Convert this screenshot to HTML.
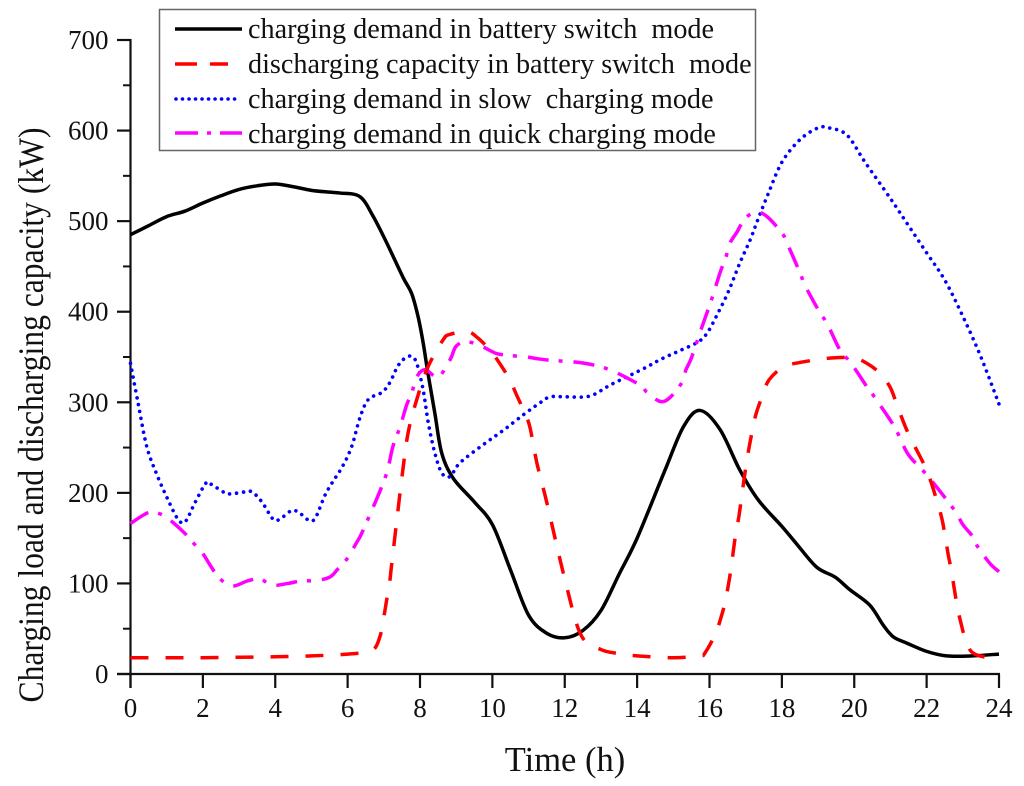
<!DOCTYPE html>
<html lang="en">
<head>
<meta charset="utf-8">
<title>Charging load and discharging capacity</title>
<style>
html,body{margin:0;padding:0;background:#fff;}
svg{display:block;}
text{font-family:"Liberation Serif",serif;fill:#111;white-space:pre;}
</style>
</head>
<body>
<svg id="chart" xmlns="http://www.w3.org/2000/svg" width="1024" height="786" viewBox="0 0 1024 786">
<rect x="0" y="0" width="1024" height="786" fill="#fff"/>
<g id="axes"></g>
<g id="series"></g>
<text transform="translate(43,415) rotate(-90)" text-anchor="middle" font-size="36" textLength="575" lengthAdjust="spacingAndGlyphs">Charging load and discharging capacity (kW)</text>
<text x="565" y="771" text-anchor="middle" font-size="34.500">Time (h)</text>
<g>
<rect x="159.500" y="9.500" width="596" height="141" fill="#fff" stroke="#666" stroke-width="1.500"/>
<line id="lg0" x1="175" x2="242" y1="29" y2="29"/>
<text x="248" y="38" font-size="28.200">charging demand in battery switch  mode</text>
<line id="lg1" x1="175" x2="228" y1="64" y2="64"/>
<text x="248" y="73" font-size="28.200">discharging capacity in battery switch  mode</text>
<line id="lg2" x1="176" x2="236" y1="99" y2="99"/>
<text x="248" y="108" font-size="28.200">charging demand in slow  charging mode</text>
<line id="lg3" x1="175" x2="242" y1="133" y2="133"/>
<text x="248" y="143" font-size="28.200">charging demand in quick charging mode</text>
</g>
</svg>
<script>
const xTickLabels = [0, 2, 4, 6, 8, 10, 12, 14, 16, 18, 20, 22, 24];
const yTickLabels = [0, 100, 200, 300, 400, 500, 600, 700];

const batteryHours = [0,0.5,1,1.5,2,2.5,3,3.5,4,4.5,5,5.5,5.8,6.34,6.71,7.08,7.53,7.77,7.95,8.09,8.22,8.41,8.6,8.92,9.5,10,10.5,11,11.5,12,12.5,13,13.5,14,14.77,15.28,15.74,16.29,16.84,17.35,18,18.4,18.96,19.47,19.88,20.43,20.8,21.08,21.46,22,22.55,23.27,24];
const batteryDemand = [485,495,505,511,520,528,535,539,541,538,534,532,531,527,505,476,438,420,394,365,332,288,244,216,190,165,115,65,45,40,48,70,110,150,225,273,291,270,225,192,163,144,118,107,93,76,54,41,34,25,20,20,22];

const dischargeHours = [0,1,2,3,4,5,6,6.67,6.89,7,7.08,7.17,7.22,7.5,7.67,7.91,8.22,8.64,8.83,9.3,9.57,9.93,10.2,10.48,10.67,10.9,11.04,11.23,11.5,12,12.45,13,13.6,14,15,15.73,15.87,16.15,16.3,16.43,16.52,16.6,16.73,16.82,17.02,17.2,17.3,17.48,17.65,18.04,18.5,19,19.4,19.97,20.35,20.71,21,21.2,21.5,22,22.3,22.43,22.52,22.6,22.7,22.76,22.85,22.95,23.1,23.33,24];
const dischargeCapacity = [18,18,18,18.5,19,20,22,26,41,63,82,104,122,217,266,303,339,369,375,378,372,358,343,325,308,288,272,233,190,105,43,27,22,20,18,20,23,43,60,79,98,118,157,176,233,272,289,309,325,339,344,347,349,349,343,332,316,295,265,225,189,170,150,131,111,95,74,56,35,22,16];

const slowHours = [0,0.21,0.45,0.73,1.04,1.31,1.51,1.78,2.09,2.25,2.61,2.8,3.16,3.36,3.63,3.94,4.13,4.43,4.63,4.96,5.13,5.37,5.57,5.87,6.12,6.34,6.57,6.95,7.17,7.36,7.53,7.75,7.91,8.09,8.23,8.41,8.6,8.83,9.1,9.74,10.3,10.85,11.3,11.6,12.06,12.7,13.3,14.17,14.68,15.18,15.7,15.96,16.24,16.52,16.84,17.12,17.35,17.62,18,18.5,19,19.3,19.8,20.3,21,21.5,22,22.5,23,23.5,24];
const slowDemand = [343,299,251,220,192,171,168,189,211,209,200,199,201,201,190,171,171,180,179,169,174,197,211,230,252,283,303,311,322,338,347,351,343,313,277,244,222,218,233,253,269,286,299,306,306,307,320,337,348,357,367,378,399,422,454,479,503,530,565,590,603,603,595,565,525,495,465,435,395,350,298];

const quickHours = [0,0.48,0.8,1.09,1.51,1.73,1.98,2.25,2.45,2.8,3.25,3.58,3.91,4.35,4.74,5.1,5.51,5.73,5.98,6.26,6.43,7.03,7.25,7.45,7.63,7.77,7.91,8.14,8.5,8.83,9,9.3,9.74,10.1,10.4,10.95,11.26,11.68,12.14,12.7,13.3,14.08,14.27,14.63,14.9,15.24,15.35,15.5,15.79,16.07,16.29,16.45,16.57,16.76,16.98,17.3,17.59,18,18.14,18.5,18.64,19.05,19.25,19.6,19.83,20.07,20.35,20.52,21,21.2,21.5,22,22.73,23,23.25,23.42,23.75,24];
const quickDemand = [166,178,177,170,155,145,134,117,106,97,103,105,98,100,103,103,107,116,127,146,159,216,251,273,297,310,328,336,328,347,362,367,361,354,352,350,348,346,345,342,335,319,311,301,305,322,336,349,383,415,443,460,476,488,503,510,505,487,476,443,429,399,387,358,347,334,317,308,280,266,242,220,183,165,153,140,122,113];

const SVGNS = 'http://www.w3.org/2000/svg';
const xScale = h => 130.5 + (h / 24) * 868.5;
const yScale = v => 674 - (v / 700) * 634;

const axesG = document.getElementById('axes');
const seriesG = document.getElementById('series');

function addLine(x1, y1, x2, y2, w) {
  const l = document.createElementNS(SVGNS, 'line');
  l.setAttribute('x1', x1);
  l.setAttribute('y1', y1);
  l.setAttribute('x2', x2);
  l.setAttribute('y2', y2);
  l.setAttribute('stroke', '#111');
  l.setAttribute('stroke-width', w);
  axesG.appendChild(l);
  return l;
}
function addText(x, y, s, anchor) {
  const t = document.createElementNS(SVGNS, 'text');
  t.setAttribute('x', x);
  t.setAttribute('y', y);
  t.setAttribute('font-size', '27');
  t.setAttribute('text-anchor', anchor);
  t.textContent = s;
  axesG.appendChild(t);
  return t;
}

const xAxisLine = addLine(117, 674, 1000, 674, 2.2);


const yAxisLine = addLine(130.5, 39, 130.5, 688, 2.2);



xTickLabels.forEach(h => {
  const x = xScale(h);
  const tick = addLine(x, 674, x, 688, 2.2);
  
  
  const label = addText(x, 717, String(h), 'middle');
  
  
});
yTickLabels.forEach((v, i) => {
  const y = yScale(v);
  const tick = addLine(117, y, 130.5, y, 2.2);
  
  
  const label = addText(108.5, y + 9, String(v), 'end');
  
  
  if (i < yTickLabels.length - 1) {
    const my = yScale((v + yTickLabels[i + 1]) / 2);
    const minor = addLine(123, my, 130.5, my, 2);
    
    
  }
});

function smoothPath(hours, values) {
  const pts = hours.map((h, i) => [xScale(h), yScale(values[i])]);
  let d = 'M' + pts[0][0].toFixed(2) + ' ' + pts[0][1].toFixed(2);
  for (let i = 0; i < pts.length - 1; i++) {
    const p0 = pts[Math.max(0, i - 1)];
    const p1 = pts[i];
    const p2 = pts[i + 1];
    const p3 = pts[Math.min(pts.length - 1, i + 2)];
    const c1x = p1[0] + (p2[0] - p0[0]) / 6;
    const c1y = p1[1] + (p2[1] - p0[1]) / 6;
    const c2x = p2[0] - (p3[0] - p1[0]) / 6;
    const c2y = p2[1] - (p3[1] - p1[1]) / 6;
    d += 'C' + c1x.toFixed(2) + ' ' + c1y.toFixed(2) + ' ' + c2x.toFixed(2) + ' ' + c2y.toFixed(2) + ' ' + p2[0].toFixed(2) + ' ' + p2[1].toFixed(2);
  }
  return d;
}

const solidStyle = { stroke: '#000', width: 3.5, dash: '', cap: 'butt', legendDash: '' };
const dashStyle = { stroke: '#ff0000', width: 3.5, dash: '18 17', cap: 'butt', legendDash: '22 13' };
const dotStyle = { stroke: '#0000ff', width: 3.6, dash: '0.01 6.99', cap: 'round', legendDash: '0.01 6.5' };
const dashDotStyle = { stroke: '#ff00ff', width: 3.5, dash: '21 10 4 11', cap: 'butt', legendDash: '23 9 4 9' };

function drawSeries(hours, values, style) {
  const p = document.createElementNS(SVGNS, 'path');
  p.setAttribute('d', smoothPath(hours, values));
  p.setAttribute('fill', 'none');
  p.setAttribute('stroke', style.stroke);
  p.setAttribute('stroke-width', style.width);
  p.setAttribute('stroke-linecap', style.cap);
  if (style.dash) p.setAttribute('stroke-dasharray', style.dash);
  seriesG.appendChild(p);
  return p;
}

const batteryLine = drawSeries(batteryHours, batteryDemand, solidStyle);


const slowLine = drawSeries(slowHours, slowDemand, dotStyle);


const quickLine = drawSeries(quickHours, quickDemand, dashDotStyle);


const dischargeLine = drawSeries(dischargeHours, dischargeCapacity, dashStyle);



[solidStyle, dashStyle, dotStyle, dashDotStyle].forEach((s, i) => {
  const l = document.getElementById('lg' + i);
  l.setAttribute('stroke', s.stroke);
  l.setAttribute('stroke-width', s.width);
  l.setAttribute('stroke-linecap', s.cap);
  if (s.legendDash) l.setAttribute('stroke-dasharray', s.legendDash);
});
</script>
</body>
</html>
